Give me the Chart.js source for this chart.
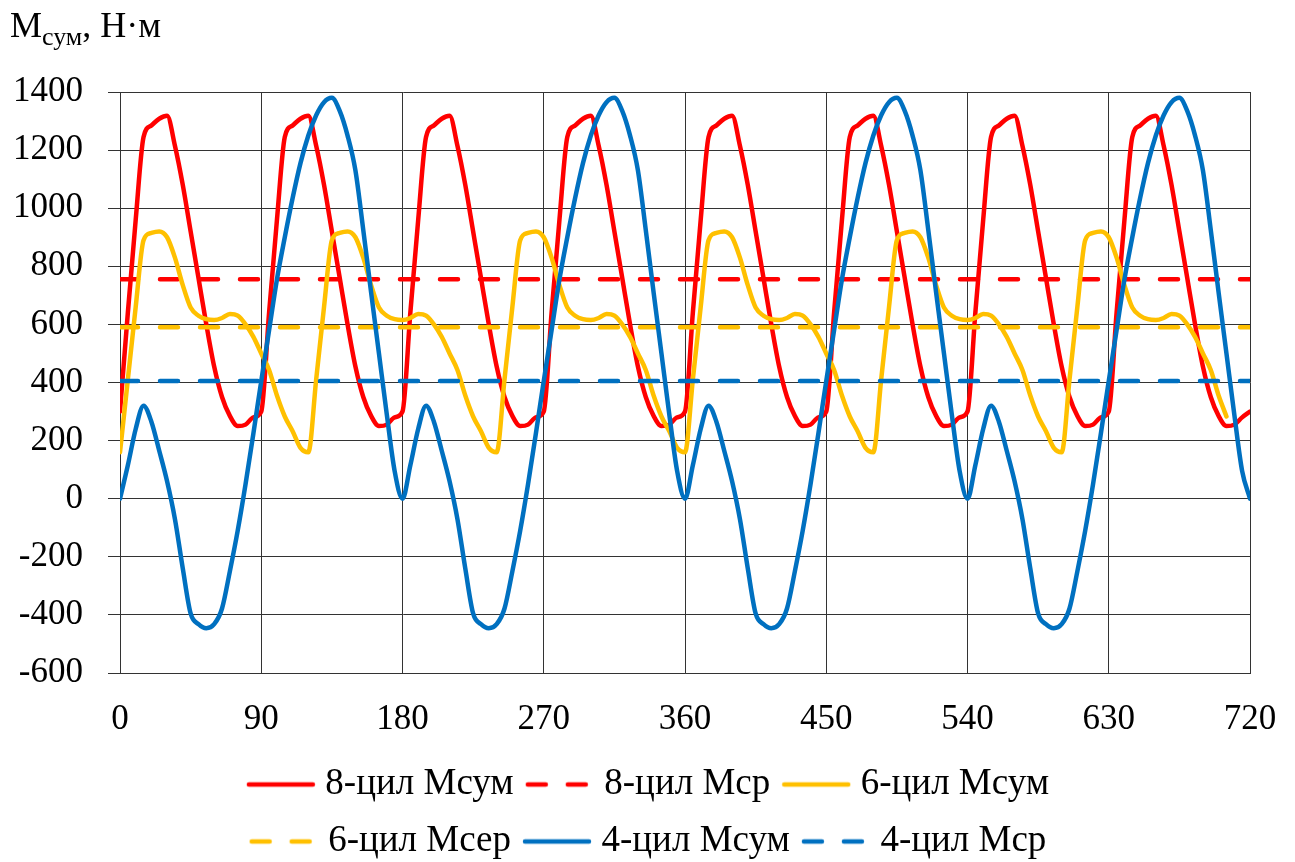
<!DOCTYPE html>
<html><head><meta charset="utf-8">
<script src="https://cdn.jsdelivr.net/npm/chart.js@4.4.1/dist/chart.umd.min.js"></script>
<style>html,body{margin:0;padding:0;background:#fff;overflow:hidden}canvas{display:block}</style>
</head><body>
<canvas id="c" width="1295" height="870"></canvas>
<script>
// crank angle, degrees
const angles = [0,5,10,15,20,25,30,35,40,45,50,55,60,65,70,75,80,85,90,95,100,105,110,115,120,125,130,135,140,145,150,155,160,165,170,175,180,185,190,195,200,205,210,215,220,225,230,235,240,245,250,255,260,265,270,275,280,285,290,295,300,305,310,315,320,325,330,335,340,345,350,355,360,365,370,375,380,385,390,395,400,405,410,415,420,425,430,435,440,445,450,455,460,465,470,475,480,485,490,495,500,505,510,515,520,525,530,535,540,545,550,555,560,565,570,575,580,585,590,595,600,605,610,615,620,625,630,635,640,645,650,655,660,665,670,675,680,685,690,695,700,705,710,715,720];

// 8-цил Мсум
const m8sum = [
300,640,960,1245,1285,1308,1318,1215,1080,920,760,600,455,350,285,250,255,280,
300,640,960,1245,1285,1308,1318,1215,1080,920,760,600,455,350,285,250,255,280,
300,640,960,1245,1285,1308,1318,1215,1080,920,760,600,455,350,285,250,255,280,
300,640,960,1245,1285,1308,1318,1215,1080,920,760,600,455,350,285,250,255,280,
300,640,960,1245,1285,1308,1318,1215,1080,920,760,600,455,350,285,250,255,280,
300,640,960,1245,1285,1308,1318,1215,1080,920,760,600,455,350,285,250,255,280,
300,640,960,1245,1285,1308,1318,1215,1080,920,760,600,455,350,285,250,255,280,
300,640,960,1245,1285,1308,1318,1215,1080,920,760,600,455,350,285,250,255,280,
300];

// 6-цил Мсум (0..705)
const m6sum = [
160,410,660,890,915,920,900,830,735,658,630,618,615,622,636,630,600,557,500,443,355,283,232,175,
160,410,660,890,915,920,900,830,735,658,630,618,615,622,636,630,600,557,500,443,355,283,232,175,
160,410,660,890,915,920,900,830,735,658,630,618,615,622,636,630,600,557,500,443,355,283,232,175,
160,410,660,890,915,920,900,830,735,658,630,618,615,622,636,630,600,557,500,443,355,283,232,175,
160,410,660,890,915,920,900,830,735,658,630,618,615,622,636,630,600,557,500,443,355,283,232,175,
160,410,660,890,915,920,900,830,735,658,630,618,615,622,636,630,600,557,500,443,355,283];

// 4-цил Мсум
const m4sum = [
0,115,240,320,265,165,60,-70,-240,-395,-432,-446,-432,-378,-250,-110,50,225,405,580,755,900,1035,1155,1250,1320,1365,1380,1335,1250,1130,925,710,500,290,95,
0,115,240,320,265,165,60,-70,-240,-395,-432,-446,-432,-378,-250,-110,50,225,405,580,755,900,1035,1155,1250,1320,1365,1380,1335,1250,1130,925,710,500,290,95,
0,115,240,320,265,165,60,-70,-240,-395,-432,-446,-432,-378,-250,-110,50,225,405,580,755,900,1035,1155,1250,1320,1365,1380,1335,1250,1130,925,710,500,290,95,
0,115,240,320,265,165,60,-70,-240,-395,-432,-446,-432,-378,-250,-110,50,225,405,580,755,900,1035,1155,1250,1320,1365,1380,1335,1250,1130,925,710,500,290,95,
0];

// mean torques
const m8avg = [755, 755];
const m6avg = [590, 590];
const m4avg = [405, 405];
const avgAngles = [0, 720];

const seriesLabels = ['8-цил Мсум','8-цил Мср','6-цил Мсум','6-цил Мсер','4-цил Мсум','4-цил Мср'];
const xTicks = [0,90,180,270,360,450,540,630,720];
const yTicks = [-600,-400,-200,0,200,400,600,800,1000,1200,1400];

const RED='#FF0000', YEL='#FFC000', BLU='#0070C0';
const FONT='"Liberation Serif","Times New Roman",serif';
const LW = 4.5;
const DASH = [18, 22];
Chart.defaults.font.family = FONT;
Chart.defaults.font.size = 35;
Chart.defaults.color = '#000';

// legend key swatches (line samples)
function keyImage(color, dashed){
  const c = document.createElement('canvas');
  c.width = 70; c.height = 8;
  const g = c.getContext('2d');
  g.strokeStyle = color; g.lineWidth = LW; g.lineCap = 'round';
  if (dashed) g.setLineDash(DASH);
  g.beginPath(); g.moveTo(3, 4); g.lineTo(67, 4); g.stroke();
  return c;
}

const toXY = (xs, ys) => ys.map((y,i)=>({x:xs[i], y}));
function ds(i, data, color, dashed){
  return {label: seriesLabels[i], data, borderColor: color, backgroundColor: color,
    borderWidth: LW, borderDash: dashed ? DASH : [], borderCapStyle: 'round', borderJoinStyle:'round',
    pointRadius: 0, pointHoverRadius: 0, pointStyle: keyImage(color, dashed),
    fill: false, cubicInterpolationMode: 'monotone', order: 5 - i};
}

const titlePlugin = {
  id: 'axisTitle',
  afterDraw(chart){
    const ctx = chart.ctx;
    ctx.save();
    ctx.fillStyle = '#000'; ctx.textAlign = 'left'; ctx.textBaseline = 'alphabetic';
    let x = 10;
    ctx.font = '36px ' + FONT; ctx.fillText('М', x, 37); x += ctx.measureText('М').width;
    ctx.font = '26px ' + FONT; ctx.fillText('сум', x, 45); x += ctx.measureText('сум').width;
    ctx.font = '36px ' + FONT; ctx.fillText(', Н·м', x, 37);
    ctx.restore();
  }
};
const legendWrap = {
  id: 'legendWrap',
  beforeLayout(chart){
    const lg = chart.legend;
    if (lg && !lg.__wrapped && lg._fitRows){
      const f = lg._fitRows;
      lg._fitRows = function(...a){ const mw = this.maxWidth; this.maxWidth = Math.min(mw, 900); const r = f.apply(this, a); this.maxWidth = mw; return r; };
      lg.__wrapped = true;
    }
  },
  afterLayout(chart){
    const lg = chart.legend;
    if (lg){ lg.left += 27; lg.right += 27; }
  }
};

new Chart(document.getElementById('c'), {
  type: 'line',
  data: {
    labels: angles,
    datasets: [
      ds(0, m8sum, RED, false),
      ds(1, toXY(avgAngles, m8avg), RED, true),
      ds(2, m6sum, YEL, false),
      ds(3, toXY(avgAngles, m6avg), YEL, true),
      ds(4, m4sum, BLU, false),
      ds(5, toXY(avgAngles, m4avg), BLU, true)
    ]
  },
  options: {
    responsive: false, animation: false, devicePixelRatio: 1,
    layout: {padding: {top: 92, right: 45, left: 0, bottom: 0}},
    scales: {
      x: {type: 'linear', min: 0, max: 720,
        afterBuildTicks(s){ s.ticks = xTicks.map(v=>({value:v})); },
        afterFit(s){ s.height = 73; },
        ticks: {padding: 3, callback: v => String(v), maxRotation: 0},
        grid: {color: '#333', lineWidth: 1, drawTicks: true, tickLength: 23, tickColor: 'rgba(0,0,0,0)'},
        border: {color: '#333', width: 1}},
      y: {min: -600, max: 1400,
        afterBuildTicks(s){ s.ticks = yTicks.map(v=>({value:v})); },
        afterFit(s){ s.width = 120; },
        ticks: {padding: 25, callback: v => String(v)},
        grid: {color: '#333', lineWidth: 1, tickLength: 12},
        border: {color: '#333', width: 1}}
    },
    plugins: {
      legend: {position: 'bottom',
        labels: {usePointStyle: true, pointStyleWidth: 52, padding: 20, font: {size: 37},
          sort: (a,b) => a.datasetIndex - b.datasetIndex}},
      tooltip: {enabled: false}
    }
  },
  plugins: [titlePlugin, legendWrap]
});
</script>
</body></html>
